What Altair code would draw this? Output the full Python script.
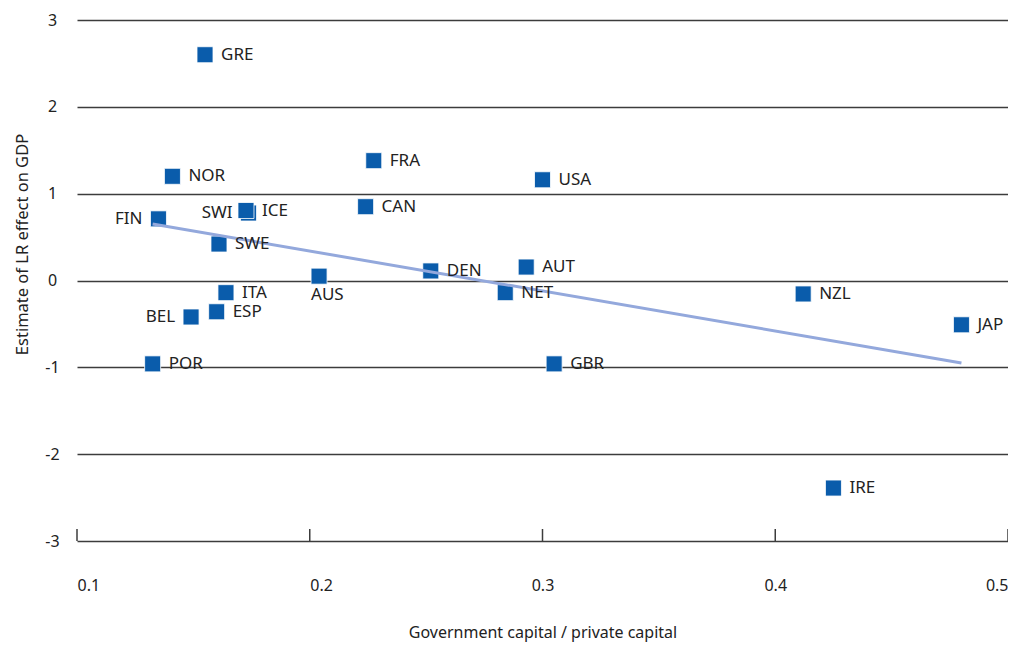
import altair as alt
import pandas as pd

countries = ["GRE", "NOR", "FRA", "USA", "SWI", "ICE", "FIN", "CAN", "SWE", "AUS", "DEN",
             "AUT", "ITA", "NET", "NZL", "BEL", "ESP", "JAP", "POR", "GBR", "IRE"]
gov_priv = [0.155, 0.141, 0.2275, 0.300, 0.1737, 0.1726, 0.135, 0.224, 0.161, 0.204, 0.252,
            0.293, 0.164, 0.284, 0.412, 0.149, 0.160, 0.480, 0.1325, 0.305, 0.425]
lr_effect = [2.60, 1.20, 1.38, 1.16, 0.777, 0.806, 0.71, 0.85, 0.42, 0.05, 0.11,
             0.155, -0.14, -0.14, -0.155, -0.42, -0.36, -0.51, -0.96, -0.96, -2.39]

trend_x = [0.1325, 0.480]
trend_y = [0.65, -0.95]

x_ticks = [0.1, 0.2, 0.3, 0.4, 0.5]
y_ticks = [3, 2, 1, 0, -1, -2, -3]

labels_left = ["FIN", "SWI", "BEL"]
labels_below = ["AUS"]

FONT = "Noto Sans"
BLUE = "#0a5cab"
INK = "#222222"
GRID = "#3c3c3c"
W, H = 931, 521

df = pd.DataFrame({"country": countries, "x": gov_priv, "y": lr_effect})
trend_df = pd.DataFrame({"x": trend_x, "y": trend_y})
ticks_df = pd.DataFrame({"x": x_ticks})

xs = alt.Scale(domain=[0.1, 0.5], nice=False, zero=False)
ys = alt.Scale(domain=[-3, 3], nice=False, zero=False)

x_axis = alt.Axis(
    values=x_ticks, format=".1f", grid=False, domain=False, ticks=False, tickSize=0,
    labelPadding=44, labelFlush=False, labelFont=FONT, labelFontSize=16, labelColor=INK,
    labelAlign=alt.ExprRef("datum.value <= 0.2 ? 'left' : (datum.value >= 0.5 ? 'right' : 'center')"),
    labelBaseline="middle",
    title="Government capital / private capital", titleFont=FONT, titleFontSize=16,
    titleFontWeight="normal", titleColor=INK, titleY=91, titleBaseline="middle",
)
y_axis = alt.Axis(
    values=y_ticks, grid=True, gridColor=GRID, gridWidth=1.5, gridOpacity=1,
    labelExpr="'' + datum.value",
    domain=False, ticks=False, tickSize=0, labelPadding=25, labelAlign="center",
    labelBaseline="middle", labelFont=FONT, labelFontSize=16, labelColor=INK,
    title="Estimate of LR effect on GDP", titleFont=FONT, titleFontSize=16.5,
    titleFontWeight="normal", titleColor=INK, titleX=-55, titleY=224,
    titleBaseline="middle", titleAngle=-90, titleAlign="center",
)

X = alt.X("x:Q", scale=xs)
Y = alt.Y("y:Q", scale=ys)

tick_rules = alt.Chart(ticks_df).mark_rule(color=GRID, strokeWidth=1.5).encode(
    x=X,
    y=alt.value(H),
    y2=alt.value(H - 12),
)

trend = alt.Chart(trend_df).mark_line(color="#93a8dc", strokeWidth=3).encode(x=X, y=Y)

points = alt.Chart(df).mark_square(
    size=256, color=BLUE, filled=True, opacity=1, stroke="white", strokeWidth=0.8
).encode(
    x=alt.X("x:Q", scale=xs, axis=x_axis),
    y=alt.Y("y:Q", scale=ys, axis=y_axis),
)

text_common = dict(font=FONT, fontSize=17, color=INK, baseline="middle")

labels_r = alt.Chart(df).transform_filter(
    ~alt.FieldOneOfPredicate(field="country", oneOf=labels_left + labels_below)
).mark_text(align="left", dx=16, **text_common).encode(x=X, y=Y, text="country:N")

labels_l = alt.Chart(df).transform_filter(
    alt.FieldOneOfPredicate(field="country", oneOf=labels_left)
).mark_text(align="right", dx=-16, **text_common).encode(x=X, y=Y, text="country:N")

labels_b = alt.Chart(df).transform_filter(
    alt.FieldOneOfPredicate(field="country", oneOf=labels_below)
).mark_text(align="left", dx=-8, dy=19, **text_common).encode(x=X, y=Y, text="country:N")

chart = alt.layer(points, tick_rules, trend, labels_r, labels_l, labels_b).properties(
    width=W, height=H,
    autosize=alt.AutoSizeParams(type="none"),
    padding={"left": 69, "top": 12, "right": 0, "bottom": 104},
    background="white",
).configure_view(stroke=None)

chart.save("out.html", embed_options={"renderer": "svg", "actions": False})
